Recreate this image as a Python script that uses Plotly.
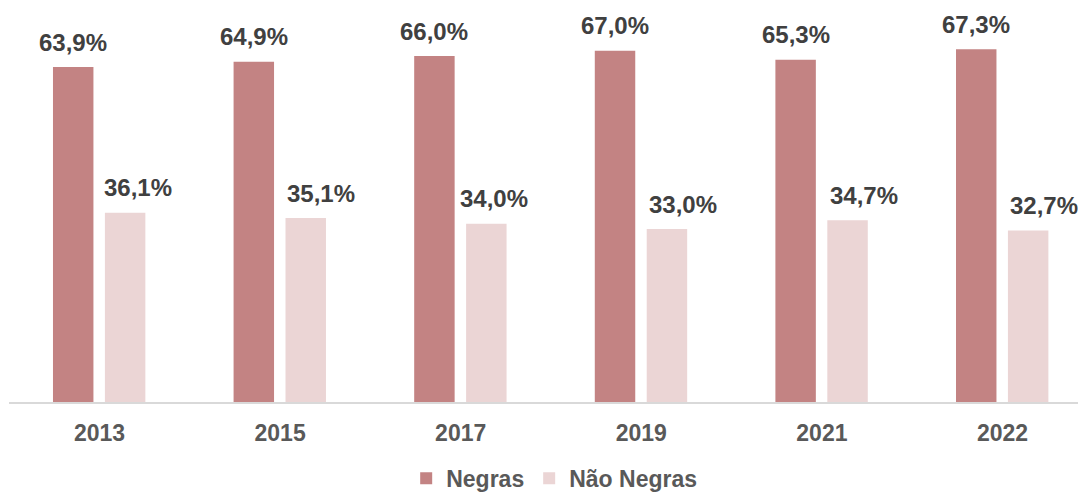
import plotly.graph_objects as go

years = ["2013", "2015", "2017", "2019", "2021", "2022"]
negras = [63.9, 64.9, 66.0, 67.0, 65.3, 67.3]
nao_negras = [36.1, 35.1, 34.0, 33.0, 34.7, 32.7]

# horizontal nudges (px) of the "Não Negras" value labels, as placed in the original
NAO_LABEL_DX = [13, 15, 8, 16, 16, 16]

C_NEG = "#C38383"
C_NAO = "#EBD5D5"
FONT = "Liberation Sans, Arial, sans-serif"
FS = 24

xs = list(range(len(years)))
W = 0.224
OFF_NEG = -0.2575
OFF_NAO = 0.030

fig = go.Figure()
fig.add_trace(go.Bar(x=xs, y=negras, name="Negras", marker=dict(color=C_NEG, line=dict(width=0)),
                     width=W, offset=OFF_NEG))
fig.add_trace(go.Bar(x=xs, y=nao_negras, name="Não Negras", marker=dict(color=C_NAO, line=dict(width=0)),
                     width=W, offset=OFF_NAO))

def fmt(v):
    return f"{v:.1f}%".replace(".", ",")

anns = []
for i, v in enumerate(negras):
    anns.append(dict(x=i + OFF_NEG + W / 2, y=v, xref="x", yref="y", text=fmt(v), showarrow=False,
                     yanchor="middle", yshift=25,
                     font=dict(family=FONT, size=FS, color="#404040", weight="bold")))
for i, v in enumerate(nao_negras):
    anns.append(dict(x=i + OFF_NAO + W / 2, y=v, xref="x", yref="y", text=fmt(v), showarrow=False,
                     yanchor="middle", yshift=25, xshift=NAO_LABEL_DX[i],
                     font=dict(family=FONT, size=FS, color="#404040", weight="bold")))

fig.update_layout(
    width=1078, height=493,
    margin=dict(l=9, r=0, t=0, b=91, autoexpand=False),
    paper_bgcolor="white", plot_bgcolor="white",
    barmode="overlay",
    showlegend=True,
    legend=dict(orientation="h", x=0.51, xanchor="center", y=-0.19, yanchor="middle",
                font=dict(family=FONT, size=FS - 1, color="#595959", weight="bold"),
                itemclick=False, traceorder="normal", itemwidth=30, borderwidth=0),
    annotations=anns,
    xaxis=dict(range=[-0.501, 5.418], tickvals=xs, ticktext=years, automargin=False,
               showline=True, linecolor="#D9D9D9", linewidth=1.5,
               ticks="outside", ticklen=10, tickcolor="rgba(0,0,0,0)",
               showgrid=False, zeroline=False,
               tickfont=dict(family=FONT, size=FS - 1, color="#595959", weight="bold")),
    yaxis=dict(range=[0, 76.7], visible=False, showgrid=False, zeroline=False, automargin=False),
)

fig.write_html("out.html", config={"displayModeBar": False},
               post_script="document.body.style.margin='0';document.body.style.overflow='hidden';")
